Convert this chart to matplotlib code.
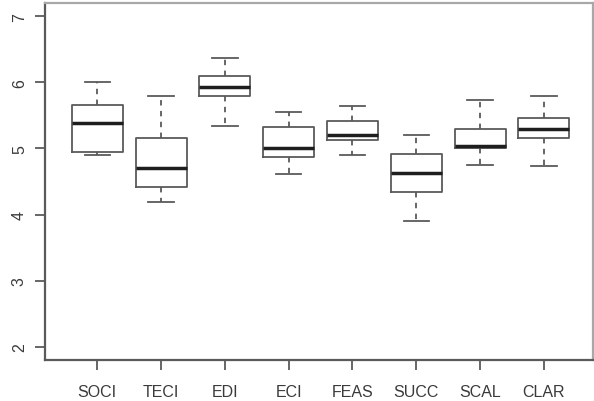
import matplotlib
matplotlib.use('Agg')
import matplotlib.pyplot as plt

# five-number summaries (whisker low, q1, median, q3, whisker high)
labels = ['SOCI', 'TECI', 'EDI', 'ECI', 'FEAS', 'SUCC', 'SCAL', 'CLAR']
whislo = [4.90, 4.19, 5.34, 4.61, 4.90, 3.91, 4.75, 4.73]
q1 = [4.94, 4.42, 5.79, 4.87, 5.13, 4.34, 5.01, 5.16]
med = [5.39, 4.70, 5.93, 5.01, 5.21, 4.63, 5.04, 5.30]
q3 = [5.65, 5.16, 6.10, 5.33, 5.42, 4.91, 5.29, 5.46]
whishi = [6.00, 5.80, 6.37, 5.55, 5.64, 5.21, 5.73, 5.80]
yticks = [2, 3, 4, 5, 6, 7]

plt.rcParams['font.family'] = ['Liberation Sans', 'DejaVu Sans']

stats = []
for i in range(len(labels)):
    stats.append({'label': labels[i], 'whislo': whislo[i], 'q1': q1[i], 'med': med[i],
                  'q3': q3[i], 'whishi': whishi[i], 'fliers': []})

fig = plt.figure(figsize=(5.94, 4.02), dpi=100)
ax = fig.add_axes([45/594, 41/402, 548/594, 357/402])

lc = '#5a5a5a'
ax.bxp(stats, positions=range(1, len(labels) + 1), widths=0.8, showfliers=False,
       boxprops=dict(color=lc, linewidth=1.3),
       whiskerprops=dict(color=lc, linewidth=1.3, linestyle=(0, (3, 3))),
       capprops=dict(color=lc, linewidth=1.3),
       medianprops=dict(color='#1e1e1e', linewidth=2.5))

ax.set_xlim(0.18, 8.77)
ax.set_ylim(1.8, 7.2)
ax.set_yticks(yticks)
ax.set_yticklabels([str(t) for t in yticks], rotation=90, va='center')
ax.set_xticks(range(1, len(labels) + 1))
ax.set_xticklabels(labels)

ax.tick_params(axis='both', length=7, width=1.3, color=lc, labelsize=11.5, labelcolor='#3a3a3a')
ax.tick_params(axis='x', pad=10)
ax.tick_params(axis='y', pad=6)

for side in ['left', 'bottom']:
    ax.spines[side].set_color('#5a5a5a')
    ax.spines[side].set_linewidth(1.6)
for side in ['top', 'right']:
    ax.spines[side].set_color('#a8a8a8')
    ax.spines[side].set_linewidth(1.6)

plt.savefig('out.png', dpi=100)
plt.close()
